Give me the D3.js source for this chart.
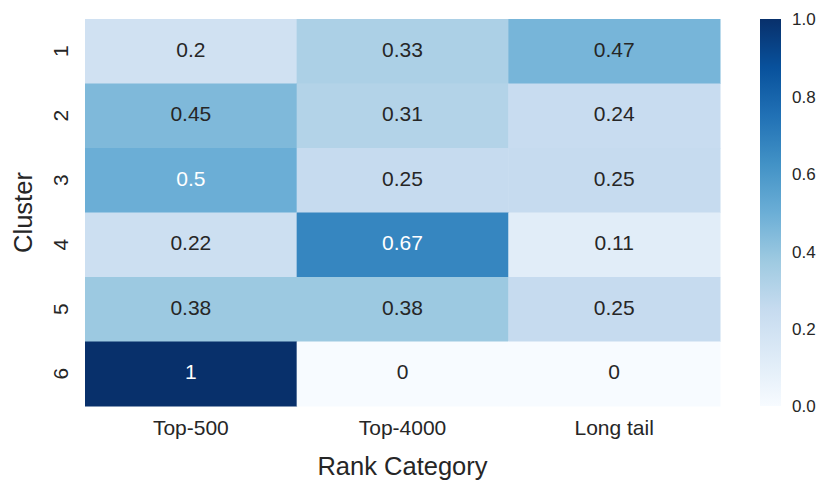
<!DOCTYPE html>
<html>
<head>
<meta charset="utf-8">
<script src="https://cdn.jsdelivr.net/npm/d3@7"></script>
<style>
  body { margin: 0; background: #fff; }
  text { font-family: "Liberation Sans", Arial, sans-serif; fill: #262626; }
</style>
</head>
<body>
<div id="chart"></div>
<script>
// heatmap of cluster share per rank category

const clusters = ["1", "2", "3", "4", "5", "6"];
const categories = ["Top-500", "Top-4000", "Long tail"];
const values = [
  [0.2, 0.33, 0.47],
  [0.45, 0.31, 0.24],
  [0.5, 0.25, 0.25],
  [0.22, 0.67, 0.11],
  [0.38, 0.38, 0.25],
  [1, 0, 0]
];
const cbarTicks = [0, 0.2, 0.4, 0.6, 0.8, 1.0];

// matplotlib "Blues" anchors (linear between them)
const blues = ["#f7fbff", "#deebf7", "#c6dbef", "#9ecae1", "#6baed6",
               "#4292c6", "#2171b5", "#08519c", "#08306b"];

const W = 831, H = 493;
const plot = { left: 85, top: 19, right: 720, bottom: 406 };
const cbar = { left: 760, width: 21 };
const FONT = "Liberation Sans, Arial, sans-serif";

const svg = d3.select("#chart").append("svg")
  .attr("width", W)
  .attr("height", H);

const color = d3.scaleLinear()
  .domain(blues.map((_, i) => i / (blues.length - 1)))
  .range(blues)
  .interpolate(d3.interpolateRgb)
  .clamp(true);

const x = d3.scaleBand().domain(categories).range([plot.left, plot.right]);
const y = d3.scaleBand().domain(clusters).range([plot.top, plot.bottom]);

// seaborn picks annotation colour from luminance
function lum(c) {
  const rgb = d3.rgb(c);
  const f = v => {
    v /= 255;
    return v <= 0.03928 ? v / 12.92 : Math.pow((v + 0.055) / 1.055, 2.4);
  };
  return 0.2126 * f(rgb.r) + 0.7152 * f(rgb.g) + 0.0722 * f(rgb.b);
}

const cells = [];
values.forEach((row, i) => row.forEach((v, j) => {
  cells.push({ cluster: clusters[i], cat: categories[j], v });
}));

svg.append("g").selectAll("rect")
  .data(cells)
  .join("rect")
  .attr("x", d => x(d.cat))
  .attr("y", d => y(d.cluster))
  .attr("width", x.bandwidth() + 0.5)
  .attr("height", y.bandwidth() + 0.5)
  .attr("fill", d => color(d.v));

svg.append("g").selectAll("text")
  .data(cells)
  .join("text")
  .attr("x", d => x(d.cat) + x.bandwidth() / 2)
  .attr("y", d => y(d.cluster) + y.bandwidth() / 2)
  .attr("dy", "0.27em")
  .attr("text-anchor", "middle")
  .style("font-size", "21px")
  .style("fill", d => lum(color(d.v)) > 0.408 ? "#262626" : "#ffffff")
  .text(d => String(d.v));

// axes without tick lines
const xAxis = svg.append("g")
  .attr("transform", `translate(0,${plot.bottom})`)
  .call(d3.axisBottom(x).tickSize(0).tickPadding(0));
xAxis.select(".domain").remove();
xAxis.selectAll("text")
  .style("font-size", "21px")
  .style("font-family", FONT)
  .attr("fill", "#262626")
  .attr("y", 29)
  .attr("dy", 0);

const yAxis = svg.append("g")
  .attr("transform", `translate(${plot.left},0)`)
  .call(d3.axisLeft(y).tickSize(0));
yAxis.select(".domain").remove();
yAxis.selectAll("text")
  .style("font-size", "21px")
  .style("font-family", FONT)
  .attr("fill", "#262626")
  .attr("x", 0)
  .attr("dy", 0)
  .attr("text-anchor", "middle")
  .attr("transform", "translate(-17,0) rotate(-90)");

svg.append("text")
  .attr("x", (plot.left + plot.right) / 2)
  .attr("y", 475)
  .attr("text-anchor", "middle")
  .style("font-size", "25.5px")
  .text("Rank Category");

svg.append("text")
  .attr("transform", `translate(31.5,${(plot.top + plot.bottom) / 2}) rotate(-90)`)
  .attr("text-anchor", "middle")
  .style("font-size", "25.5px")
  .text("Cluster");

// colorbar
const cy = d3.scaleLinear().domain([0, 1]).range([plot.bottom, plot.top]);
const grad = svg.append("defs").append("linearGradient")
  .attr("id", "cbar")
  .attr("x1", 0).attr("y1", 1).attr("x2", 0).attr("y2", 0);
blues.forEach((c, i) => {
  grad.append("stop")
    .attr("offset", i / (blues.length - 1))
    .attr("stop-color", c);
});

svg.append("rect")
  .attr("x", cbar.left)
  .attr("y", cy(1))
  .attr("width", cbar.width)
  .attr("height", cy(0) - cy(1))
  .attr("fill", "url(#cbar)");

const cAxis = svg.append("g")
  .attr("transform", `translate(${cbar.left + cbar.width},0)`)
  .call(d3.axisRight(cy).tickValues(cbarTicks).tickSize(0).tickPadding(11)
    .tickFormat(d3.format(".1f")));
cAxis.select(".domain").remove();
cAxis.selectAll("text")
  .style("font-size", "17px")
  .style("font-family", FONT)
  .attr("fill", "#262626")
  .attr("dy", "0.35em");
</script>
</body>
</html>
